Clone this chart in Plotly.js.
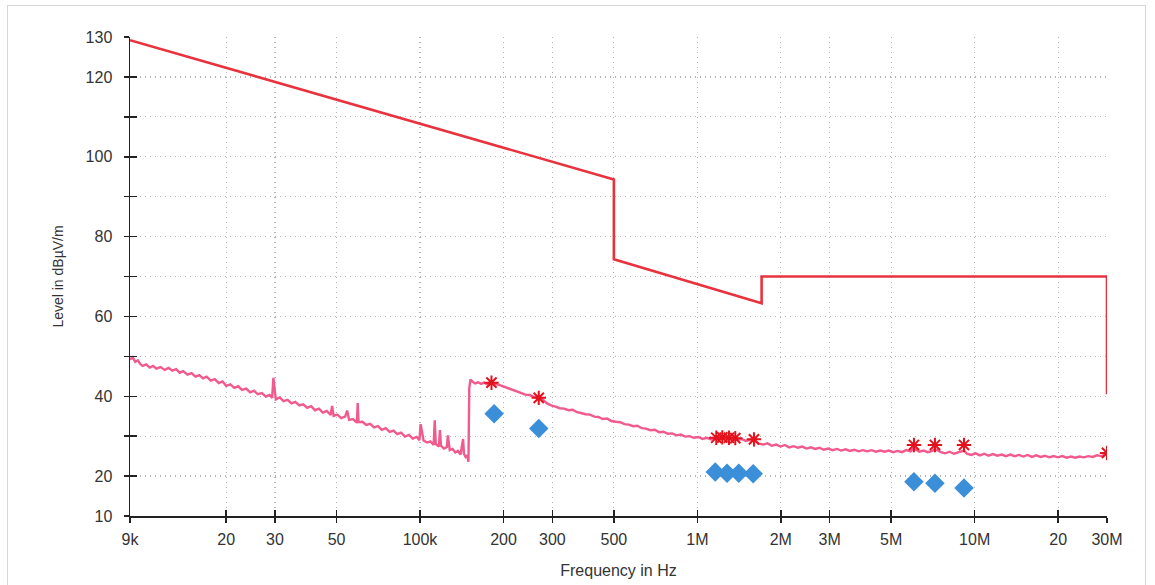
<!DOCTYPE html>
<html>
<head>
<meta charset="utf-8">
<script src="https://cdn.plot.ly/plotly-3.0.1.min.js"></script>
<style>
  html, body { margin: 0; padding: 0; background: #fff; }
  #frame { position: absolute; left: 7px; top: 5px; width: 1139px; height: 600px; border: 1.5px solid #d6d6d6; box-sizing: border-box; }
  #chart { position: absolute; left: 0; top: 0; width: 1155px; height: 585px; }
</style>
</head>
<body>
<div id="frame"></div>
<div id="chart"></div>
<script>
// ---- Limit line (Hz, dBµV/m) ----
const limitFreq  = [9e3, 500e3, 500e3, 1.705e6, 1.705e6, 30e6, 30e6];
const limitLevel = [129.2, 94.3, 74.3, 63.3, 70.0, 70.0, 40.5];

// ---- Measured trace (kHz, dBµV/m) ----
const measFreqKHz = [
  9, 9.2, 9.4, 9.6, 9.8, 10, 10.3, 10.6, 10.9, 11.2, 11.6, 12, 12.4, 12.8, 13.2, 13.6, 14, 14.5, 15, 15.5,
  16, 16.5, 17, 17.6, 18.2, 18.8, 19.4, 20, 20.7, 21.4, 22.1, 22.8, 23.6, 24.4, 25.2, 26, 26.9, 27.8, 28.7, 29.3,
  29.6, 30.2, 31.2, 32.2, 33.3, 34.4, 35.5, 36.7, 37.9, 39.2, 40.5, 41.8, 43.2, 44.6, 46.1, 47.6, 48.2, 48.8, 50.3, 52,
  53.7, 54.6, 55.5, 57.3, 59.2, 59.6, 60, 62, 64, 66.1, 68.3, 70.5, 72.8, 75.2, 77.7, 80.2, 82.8, 85.5, 88.3, 91.2,
  94.2, 97.3, 99.5, 100.5, 103, 106, 109, 112, 113, 114, 117, 118, 119, 122, 125, 126, 128, 131, 134, 137,
  140, 143, 144, 146, 148, 149.5,
  150.5, 152, 155, 158, 162, 166, 170, 175, 181, 187, 194, 201, 208, 216, 224, 232, 240, 249, 258, 267,
  277, 287, 297, 308, 319, 331, 343, 355, 368, 381, 395, 410, 425, 440, 456, 473, 490, 508, 527, 546,
  566, 587, 608, 630, 653, 677, 702, 728, 755, 782, 811, 841, 872, 904, 937, 971, 1007, 1044, 1082, 1122,
  1163, 1205, 1249, 1295, 1342, 1391, 1442, 1495, 1550, 1607, 1666, 1727, 1790, 1856, 1924, 1995, 2068, 2144, 2222, 2303,
  2388, 2476, 2566, 2660, 2758, 2859, 2964, 3073, 3185, 3302, 3423, 3548, 3678, 3813, 3953, 4098, 4248, 4404, 4565, 4732,
  4906, 5086, 5272, 5465, 5665, 5873, 6040, 6311, 6543, 6782, 7031, 7190, 7556, 7833, 8120, 8417, 8726, 9150, 9377, 9720,
  10077, 10446, 10829, 11226, 11637, 12063, 12505, 12963, 13438, 13930, 14441, 14970, 15518, 16086, 16675, 17286, 17919, 18576, 19256, 19961,
  20693, 21451, 22236, 23051, 23895, 24770, 25677, 26618, 27593, 28603, 29651, 30000
];
const measLevel = [
  49.2, 49.8, 48.6, 49.0, 48.1, 47.6, 48.0, 47.2, 47.6, 46.9, 47.3, 46.6, 47.1, 46.4, 46.8, 45.9, 46.3, 45.4, 45.8, 44.9,
  45.3, 44.5, 44.9, 43.9, 44.3, 43.3, 43.7, 42.6, 43.0, 42.1, 42.5, 41.6, 41.9, 41.0, 41.4, 40.5, 40.8, 39.9, 40.3, 39.6,
  44.6, 39.2, 39.7, 38.8, 39.1, 38.2, 38.6, 37.7, 38.0, 37.1, 37.5, 36.5, 36.9, 35.9, 36.3, 35.3, 37.6, 35.1, 35.4, 34.5,
  34.9, 36.4, 34.1, 34.3, 33.4, 38.3, 33.5, 33.6, 32.8, 33.1, 32.2, 32.5, 31.6, 32.0, 31.1, 31.4, 30.5, 30.9, 29.9, 30.3,
  29.4, 29.8, 29.0, 33.0, 28.9, 28.4, 28.7, 27.8, 34.0, 28.0, 27.4, 31.5, 27.6, 26.9, 27.3, 30.2, 26.5, 26.8, 25.9, 26.3,
  25.4, 29.3, 25.6, 24.8, 25.2, 23.6,
  42.0, 44.2, 43.6, 43.2, 43.5, 43.1, 43.4, 43.0, 43.6, 43.1, 42.8, 42.4, 42.0, 41.7, 41.2, 40.9, 40.4, 40.3, 39.8, 39.7,
  39.2, 38.2, 37.7, 37.4, 37.0, 36.9, 36.5, 36.6, 36.0, 35.8, 35.5, 35.4, 34.9, 34.8, 34.3, 34.4, 33.8, 33.6, 33.5, 33.0,
  32.9, 32.5, 32.6, 32.0, 31.9, 31.5, 31.6, 31.0, 31.1, 30.6, 30.7, 30.2, 30.4, 29.9, 30.0, 29.6, 29.8, 29.3, 29.6, 29.2,
  29.6, 29.3, 29.7, 29.2, 29.5, 29.1, 29.3, 28.8, 29.1, 29.0, 28.1, 27.9, 28.2, 27.6, 27.9, 27.4, 27.8, 27.2, 27.5, 27.1,
  27.4, 26.9, 27.2, 26.8, 27.1, 26.6, 26.9, 26.5, 26.8, 26.4, 26.7, 26.3, 26.6, 26.2, 26.5, 26.2, 26.5, 26.1, 26.4, 26.1,
  26.4, 26.0, 26.3, 26.0, 26.5, 26.2, 27.0, 26.1, 26.4, 26.0, 26.3, 26.8, 26.0, 25.7, 26.1, 25.6, 26.0, 26.4, 25.6, 25.3,
  25.7, 25.2, 25.6, 25.1, 25.5, 25.1, 25.4, 25.0, 25.4, 25.0, 25.3, 24.9, 25.3, 24.8, 25.2, 24.8, 25.1, 24.7, 25.0, 24.7,
  25.0, 24.6, 24.9, 24.6, 24.9, 24.7, 25.0, 24.8, 25.2, 25.0, 25.4, 25.6
];

// ---- Peak markers (asterisks) ----
const peakFreq  = [181e3, 268e3, 1.17e6, 1.23e6, 1.30e6, 1.37e6, 1.60e6, 6.04e6, 7.19e6, 9.15e6, 30e6];
const peakLevel = [43.4, 39.6, 29.6, 29.7, 29.6, 29.5, 29.2, 27.8, 27.8, 27.8, 25.8];

// ---- Final (average) markers (diamonds) ----
const avgFreq  = [185e3, 268e3, 1.16e6, 1.28e6, 1.41e6, 1.59e6, 6.04e6, 7.19e6, 9.15e6];
const avgLevel = [35.6, 31.9, 21.0, 20.7, 20.7, 20.6, 18.6, 18.2, 17.0];

// ---- Axis ticks ----
const xTickVals = [9e3, 20e3, 30e3, 50e3, 100e3, 200e3, 300e3, 500e3, 1e6, 2e6, 3e6, 5e6, 10e6, 20e6, 30e6];
const xTickText = ['9k', '20', '30', '50', '100k', '200', '300', '500', '1M', '2M', '3M', '5M', '10M', '20', '30M'];
const yTickVals = [10, 20, 30, 40, 50, 60, 70, 80, 90, 100, 110, 120, 130];
const yTickText = ['10', '20', '', '40', '', '60', '', '80', '', '100', '', '120', '130'];

const measFreq = measFreqKHz.map(v => v * 1000);
const font = 'Liberation Sans, Arial, sans-serif';
const xr = [Math.log10(9e3), Math.log10(30e6)];

const traces = [
  { x: measFreq, y: measLevel, type: 'scatter', mode: 'lines',
    line: { color: '#f05a8c', width: 2.4 }, hoverinfo: 'skip' },
  { x: limitFreq, y: limitLevel, type: 'scatter', mode: 'lines',
    line: { color: '#e8333f', width: 2.6 } },
  { x: peakFreq, y: peakLevel, type: 'scatter', mode: 'markers',
    marker: { symbol: 'asterisk-open', size: 12, color: '#e3121c', line: { color: '#e3121c', width: 2 } } },
  { x: avgFreq, y: avgLevel, type: 'scatter', mode: 'markers',
    marker: { symbol: 'diamond', size: 15, color: '#3a8fd8', line: { width: 0 } } },
  { x: [], y: [], xaxis: 'x2', yaxis: 'y2', type: 'scatter', mode: 'markers', showlegend: false }
];

const layout = {
  width: 1155, height: 585,
  margin: { l: 130, r: 48, t: 37, b: 69 },
  paper_bgcolor: 'rgba(0,0,0,0)', plot_bgcolor: 'rgba(0,0,0,0)',
  showlegend: false,
  font: { family: font, color: '#333', size: 16 },
  xaxis: {
    type: 'log', range: xr, tickvals: xTickVals, ticktext: xTickText,
    ticks: 'outside', ticklen: 5, tickwidth: 1.5, tickcolor: '#222',
    showline: true, linecolor: '#222', linewidth: 1.5,
    showgrid: true, gridcolor: '#b4b4b4', griddash: '1px,4px', gridwidth: 1.2,
    zeroline: false, ticklabelstandoff: 3,
    tickfont: { family: font, size: 16, color: '#333' },
    title: { text: 'Frequency in Hz', font: { family: font, size: 16, color: '#333' }, standoff: 18 }
  },
  yaxis: {
    range: [10, 130], tickvals: yTickVals, ticktext: yTickText,
    ticks: 'outside', ticklen: 5, tickwidth: 1.5, tickcolor: '#222',
    showline: true, linecolor: '#222', linewidth: 1.5,
    showgrid: true, gridcolor: '#b4b4b4', griddash: '1px,4px', gridwidth: 1.2,
    zeroline: false, ticklabelstandoff: 8,
    tickfont: { family: font, size: 16, color: '#333' },
    title: { text: 'Level in dBµV/m', font: { family: font, size: 14, color: '#333' }, standoff: 18 }
  },
  xaxis2: {
    type: 'log', range: xr, overlaying: 'x', anchor: 'y2', side: 'bottom',
    tickvals: xTickVals, ticks: 'inside', ticklen: 6, tickwidth: 1.5, tickcolor: '#222',
    showticklabels: false, showgrid: false, showline: false, zeroline: false
  },
  yaxis2: {
    range: [10, 130], overlaying: 'y', anchor: 'x2', side: 'left',
    tickvals: yTickVals, ticks: 'inside', ticklen: 7, tickwidth: 1.5, tickcolor: '#222',
    showticklabels: false, showgrid: false, showline: false, zeroline: false
  }
};

Plotly.newPlot('chart', traces, layout, { displayModeBar: false, staticPlot: true });
</script>
</body>
</html>
